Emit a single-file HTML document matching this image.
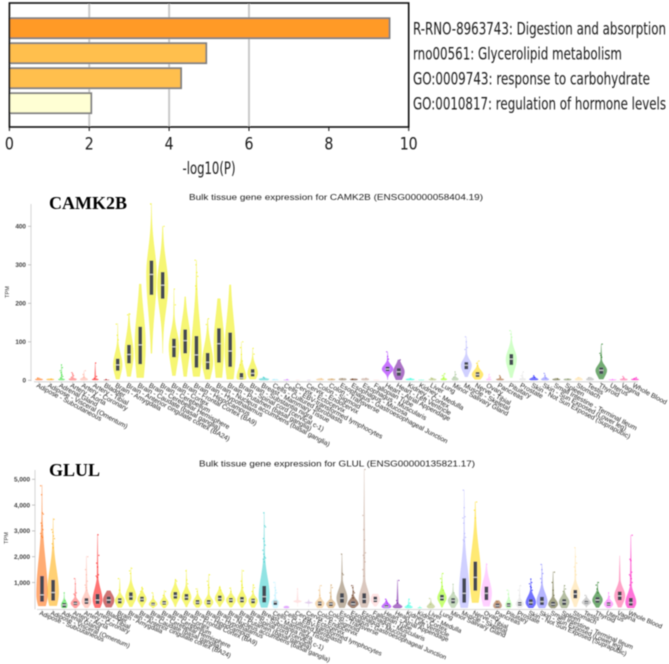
<!DOCTYPE html>
<html lang="en">
<head>
<meta charset="utf-8">
<title>Enrichment and bulk tissue expression</title>
<style>
html,body{margin:0;padding:0;background:#fff;width:669px;height:664px;overflow:hidden}
svg{display:block}
text{font-family:"Liberation Sans",sans-serif}
.dv{font-family:"DejaVu Sans","Liberation Sans",sans-serif;fill:#1a1a1a}
</style>
</head>
<body>
<svg id="root" xmlns="http://www.w3.org/2000/svg" width="669" height="664" viewBox="0 0 669 664">
<defs><filter id="soft" x="-5%" y="-5%" width="110%" height="110%"><feGaussianBlur stdDeviation="0.42"/></filter></defs>
<g id="enrich" filter="url(#soft)"></g>
<g id="camk" filter="url(#soft)"></g>
<g id="glul" filter="url(#soft)"></g>
</svg>
<script>
const barTerms=["R-RNO-8963743: Digestion and absorption","rno00561: Glycerolipid metabolism","GO:0009743: response to carbohydrate","GO:0010817: regulation of hormone levels"];
const barValues=[9.52,4.93,4.3,2.05];
const barColors=["#ff9a26","#ffbf4d","#ffbf4d","#ffffd4"];
const barTicks=[0,2,4,6,8,10];
const barGrid=[2,4,6];

const tissues=["Adipose - Subcutaneous","Adipose - Visceral (Omentum)","Adrenal Gland","Artery - Aorta","Artery - Coronary","Artery - Tibial","Bladder","Brain - Amygdala","Brain - Anterior cingulate cortex (BA24)","Brain - Caudate (basal ganglia)","Brain - Cerebellar Hemisphere","Brain - Cerebellum","Brain - Cortex","Brain - Frontal Cortex (BA9)","Brain - Hippocampus","Brain - Hypothalamus","Brain - Nucleus accumbens (basal ganglia)","Brain - Putamen (basal ganglia)","Brain - Spinal cord (cervical c-1)","Brain - Substantia nigra","Breast - Mammary Tissue","Cells - Cultured fibroblasts","Cells - EBV-transformed lymphocytes","Cervix - Ectocervix","Cervix - Endocervix","Colon - Sigmoid","Colon - Transverse","Esophagus - Gastroesophageal Junction","Esophagus - Mucosa","Esophagus - Muscularis","Fallopian Tube","Heart - Atrial Appendage","Heart - Left Ventricle","Kidney - Cortex","Kidney - Medulla","Liver","Lung","Minor Salivary Gland","Muscle - Skeletal","Nerve - Tibial","Ovary","Pancreas","Pituitary","Prostate","Skin - Not Sun Exposed (Suprapubic)","Skin - Sun Exposed (Lower leg)","Small Intestine - Terminal Ileum","Spleen","Stomach","Testis","Thyroid","Uterus","Vagina","Whole Blood"];
const tissueColors=["#FF6600","#FFAA00","#33DD33","#FF5555","#FFAA99","#FF0000","#AA0000","#EEEE00","#EEEE00","#EEEE00","#EEEE00","#EEEE00","#EEEE00","#EEEE00","#EEEE00","#EEEE00","#EEEE00","#EEEE00","#EEEE00","#EEEE00","#33CCCC","#AAEEFF","#CC66FF","#FFCCCC","#CCAADD","#EEBB77","#CC9955","#8B7355","#552200","#BB9988","#FFCCCC","#9900FF","#660099","#22FFDD","#33FFCC","#AABB66","#99FF00","#99BB88","#AAAAFF","#FFD700","#FFAAFF","#995522","#AAFF99","#DDDDDD","#0000FF","#7777FF","#555522","#778855","#FFDD99","#AAAAAA","#006600","#FF66FF","#FF5599","#FF00BB"];

const camkTicks=[0,100,200,300,400];
const camkMin=[0,0,0,0,0,0,0,3,10,7,70,70,12,10,10,3,7,3,2,3,0,0,0,0,0,0,0,0,0,0,0,1,1,0,0,0,0,0,9,2,0,0,7,0,0,0,0,0,0,0,3,0,0,0];
const camkQ1=[1,1,1,1,1,1,0,25,44,42,222,212,60,70,33,28,46,35,3,10,1,0,0,0,0,1,1,1,1,1,0,24,12,1,0,1,1,1,29,9,1,1,40,1,1,1,1,1,1,1,17,1,1,1];
const camkMedian=[2,2,2,3,2,2,1,40,67,92,275,247,87,103,66,47,95,76,6,18,3,1,1,0,0,2,2,2,2,2,1,29,22,2,1,2,3,3,39,15,2,2,55,3,2,2,2,2,2,2,26,2,2,2];
const camkQ3=[3,3,3,4,4,3,1,56,92,139,311,281,108,132,115,71,135,124,19,29,4,2,1,1,1,3,3,4,3,4,1,35,31,3,1,3,4,5,47,21,3,3,68,4,4,4,3,3,4,4,33,2,3,3];
const camkMax=[7,4,40,20,25,45,3,148,174,250,460,400,237,217,312,160,212,248,100,83,9,3,3,1,1,5,4,5,4,5,2,74,53,5,2,6,17,22,113,50,15,12,129,22,12,18,5,4,8,8,94,3,10,7];
const camkPeak=[.7,.7,.6,.7,.7,.6,.5,.8,.8,.95,.9,.95,.9,.9,.9,.95,.9,.95,.85,.9,.9,.6,.5,.3,.3,.7,.7,.7,.7,.7,.5,1,1,.8,.5,.7,.55,.6,.95,1,.5,.7,.95,.6,.8,.7,.7,.7,.7,.7,1,.7,.7,.7];
const camkOutliers=[[6],[3],[40,33,25,20,14,10,6],[20,16,12,8],[25,15,8],[45,10,5],[2],[146,117,105],[172,170],[],[458],[400],[237,196],[],[312,300,280,270,245,237],[160,145],[],[],[100,85,67,50,40],[83,68],[8,6],[2],[2],[],[],[4],[3],[4],[3],[5],[],[74,62,55],[53],[4],[],[6,4],[17,12,6],[22,15,8],[113,100,85,80],[50,44,38],[15,8],[12,8],[129,120,112],[22,12],[12,8],[18,12,6],[4],[3],[7],[7],[94,70,65,60],[2],[10,6],[7,4]];

const glulTicks=[1000,2000,3000,4000,5000];
const glulMin=[90,100,10,10,20,20,40,30,60,40,10,10,60,50,30,30,60,40,30,30,30,10,5,70,60,10,10,20,10,30,80,0,0,0,0,0,40,20,20,220,80,0,0,20,10,10,0,10,60,30,30,10,40,10];
const glulQ1=[260,300,40,130,170,170,190,190,320,260,115,140,375,320,155,155,285,230,230,195,230,130,20,265,210,105,90,220,115,195,240,30,30,20,5,30,300,195,220,685,320,40,60,105,130,130,90,130,390,180,220,100,320,105];
const glulMedian=[520,610,130,190,260,320,320,300,450,350,155,205,490,425,230,230,375,320,320,300,450,245,40,270,220,195,170,390,170,360,320,60,60,40,10,60,400,300,580,1200,580,100,120,170,220,260,155,245,555,220,320,160,480,220];
const glulQ3=[1250,1100,200,260,390,555,450,390,620,450,220,285,630,555,320,320,490,400,440,375,865,285,60,275,230,260,230,580,260,580,450,120,100,70,20,110,520,390,1160,1810,840,180,200,240,350,440,245,350,710,280,425,230,645,400];
const glulMax=[4780,3490,610,1160,2030,2870,680,1160,1590,840,610,710,1140,1510,775,1330,865,815,1510,945,3730,1030,90,775,350,900,930,2100,900,5390,555,360,1100,360,90,390,1360,930,4590,4130,1745,300,710,900,1160,1720,1420,900,2365,515,1030,620,2040,2840];
const glulPeak=[1,1,.55,.8,.85,.85,1,.85,.95,.8,.75,.75,.85,.85,.8,.8,.85,.85,.85,.8,.95,.65,.5,.75,.7,.8,.8,.95,.95,.95,.8,.85,.85,.7,.4,.7,.8,.9,.9,1,.95,.75,.6,.7,.9,.95,.85,.9,.85,.8,.9,.8,.95,.95];
const glulOutliers=[[4750,4400,3700,3650,3300,3200,3050,2900,2800,2750],[3450,3050,2950,2800,2700,2500,2350],[600,300,200],[1150,950,600,550,500],[2000,1500,1300,1050,900,800,700],[2850,2050,1750,1600,1300,1250,1200],[],[1150,700],[1550,1450,1350],[800,750,650],[600,450],[650,500],[1100,1050],[1450,1100,950],[750,650],[1300,1050,900,800],[800,700],[780,650],[1450,1050,900,800],[900,800,650],[3700,3200,3150,2700,2600,2450,2250,2100,2000,1950,1900,1800],[1000,800,700,600,500],[],[750],[],[880,700,500,400],[900,800,600,450],[2100,1350,1300],[880,800,650,600,500,400],[5380,3600,3050,2650,2150,2050,1950,1800,1500,1250],[],[350,280,200],[1080,300,200],[350,200,100],[],[380,150],[1350,1150,1000,850,700],[930,600],[4580,3900,3550,3500,3300,2900,2750,2650,2600],[4120,3800,3500],[1700],[250,150],[700,550,400,300],[880,700,500,300],[1130,1000,950,850,800,700],[1700,1500,1350,1150,1000],[1400,1000,700,500],[880,750,650],[2350,2000,1750,1600,1450,1300],[500,300],[1000,900,750,600],[600,450,300],[],[2830,1900,1850,1400,1300,1250,1150,1000,900]];

const NS="http://www.w3.org/2000/svg";
function mk(parent,tag,attrs,txt){
  const e=document.createElementNS(NS,tag);
  for(const k in attrs)e.setAttribute(k,attrs[k]);
  if(txt!==undefined)e.textContent=txt;
  parent.appendChild(e);
  return e;
}

/* enrichment chart */
(function(){
  const g=document.getElementById('enrich');
  const L=9.4,R=408.7,T=3,B=127;
  const x=v=>L+(R-L)*v/10;
  const labelWidths=[253,209,237,253];
  barGrid.forEach(v=>{
    const gl=mk(g,'line',{x1:x(v),x2:x(v),y1:T,y2:B,stroke:'#c9c9c9','stroke-width':2});
    
    
  });
  barValues.forEach((v,i)=>{
    const y=18.2+i*25;
    const r=mk(g,'rect',{x:L,y:y,width:x(v)-L,height:20,fill:barColors[i],stroke:'#808080','stroke-width':1.8});
    
    
    const t=mk(g,'text',{x:413,y:34.5+i*25,class:'dv','font-size':16.5,textLength:labelWidths[i],lengthAdjust:'spacingAndGlyphs'},barTerms[i]);
    
    
  });
  const fr=mk(g,'rect',{x:L,y:T,width:R-L,height:B-T,fill:'none',stroke:'#111','stroke-width':1.6});
  
  
  barTicks.forEach(v=>{
    const tk=mk(g,'line',{x1:x(v),x2:x(v),y1:B,y2:B+4,stroke:'#111','stroke-width':1});
    
    
    const w=v===10?18:9;
    const t=mk(g,'text',{x:x(v),y:149.5,class:'dv','font-size':16.5,'text-anchor':'middle',textLength:w,lengthAdjust:'spacingAndGlyphs'},String(v));
    
    
  });
  const xt=mk(g,'text',{x:209,y:174,class:'dv','font-size':16.5,'text-anchor':'middle',textLength:53,lengthAdjust:'spacingAndGlyphs'},'-log10(P)');
  
  
})();

/* violin charts */
function drawViolins(c){
  const g=c.g;
  const y=v=>c.y0-c.k*v;
  const x=i=>c.x0+c.dx*i;
  const ttl=mk(g,'text',{x:c.titleX,y:c.titleY,'font-size':8,fill:'#222',textLength:c.titleW,lengthAdjust:'spacingAndGlyphs'},c.title);
  
  
  const gene=mk(g,'text',{x:49,y:c.geneY,'font-size':18,'font-weight':'bold',fill:'#000',style:'font-family:"Liberation Serif",serif'},c.gene);
  
  
  const tpm=mk(g,'text',{x:0,y:0,'font-size':5.5,fill:'#333','text-anchor':'middle',transform:`translate(${c.tpmX},${c.tpmY}) rotate(-90)`},'TPM');
  
  
  const ya=mk(g,'line',{x1:c.axisX,x2:c.axisX,y1:c.axisTop,y2:c.y0+1,stroke:'#ccc','stroke-width':.8});
  
  
  c.ticks.forEach(v=>{
    const tk=mk(g,'line',{x1:c.axisX-3,x2:c.axisX,y1:y(v),y2:y(v),stroke:'#aaa','stroke-width':.7});
    
    
    const t=mk(g,'text',{x:c.axisX-5,y:y(v)+2.3,'font-size':6.4,'font-weight':'bold',fill:'#444','text-anchor':'end'},v.toLocaleString('en-US'));
    
    
  });
  const xa=mk(g,'line',{x1:c.x0-5,x2:x(53)+3,y1:c.axisY,y2:c.axisY,stroke:'#ccc','stroke-width':.8});
  
  
  tissues.forEach((name,i)=>{
    const cx=x(i);
    const tk=mk(g,'line',{x1:cx,x2:cx,y1:c.axisY,y2:c.axisY+2.5,stroke:'#bbb','stroke-width':.6});
    
    
    const lb=mk(g,'text',{x:0,y:0,'font-size':c.labelSize,fill:'#222',transform:`translate(${cx-3},${c.axisY+5}) rotate(${c.angle})`},name);
    
    

    const lo=c.min[i],hi=c.max[i],m=c.med[i],q1=c.q1[i],q3=c.q3[i];
    const W=c.peak[i]*5.6;
    const su=Math.max(q3-m,(hi-lo)*.02,.01)*1.8, sd=Math.max(m-q1,(hi-lo)*.02,.01)*1.8;
    const hw=v=>{
      const s=v>m?su:sd;
      const gs=Math.exp(-.5*((v-m)/s)*((v-m)/s));
      const tail=v>m?.2*(hi-v)/Math.max(hi-m,.01):0;
      return W*Math.max(gs,tail);
    };
    const steps=48;let right='',left='';
    for(let s=0;s<=steps;s++){
      const v=lo+(hi-lo)*s/steps;
      const w=hw(v);
      right+=(s?'L':'M')+(cx+w).toFixed(2)+' '+y(v).toFixed(2);
      left='L'+(cx-w).toFixed(2)+' '+y(v).toFixed(2)+left;
    }
    const vi=mk(g,'path',{d:right+left+'Z',fill:c.colors[i],'fill-opacity':.55,stroke:c.colors[i],'stroke-opacity':.35,'stroke-width':.4});
    
    

    c.outliers[i].forEach((v,j)=>{
      const pt=mk(g,'circle',{cx:cx+((j*37+i*5)%7-3)*.45,cy:y(v),r:.6,fill:c.colors[i],'fill-opacity':.8});
      
      
    });

    if(y(q1)-y(q3)>=2.2){
      const bx=mk(g,'rect',{x:cx-1.8,y:y(q3),width:3.6,height:y(q1)-y(q3),fill:'#454a52'});
      
      
      const md=mk(g,'line',{x1:cx-1.8,x2:cx+1.8,y1:y(m),y2:y(m),stroke:'#e6e6e6','stroke-width':.9});
      
      
    }
  });
}
drawViolins({g:document.getElementById('camk'),gene:'CAMK2B',geneY:209,
  title:'Bulk tissue gene expression for CAMK2B (ENSG00000058404.19)',titleX:189,titleY:200,titleW:294,
  y0:380.3,k:.385,x0:39,dx:11.245,axisX:31,axisTop:204,axisY:381.8,angle:28,labelSize:6.7,tpmX:9,tpmY:292,
  ticks:camkTicks,min:camkMin,q1:camkQ1,med:camkMedian,q3:camkQ3,max:camkMax,peak:camkPeak,outliers:camkOutliers,colors:tissueColors});
drawViolins({g:document.getElementById('glul'),gene:'GLUL',geneY:476,
  title:'Bulk tissue gene expression for GLUL (ENSG00000135821.17)',titleX:199,titleY:466.5,titleW:276,
  y0:608.3,k:.0258,x0:42,dx:11.11,axisX:35,axisTop:470,axisY:609.5,angle:23,labelSize:6.4,tpmX:8,tpmY:538,
  ticks:glulTicks,min:glulMin,q1:glulQ1,med:glulMedian,q3:glulQ3,max:glulMax,peak:glulPeak,outliers:glulOutliers,colors:tissueColors});
</script>
</body>
</html>
